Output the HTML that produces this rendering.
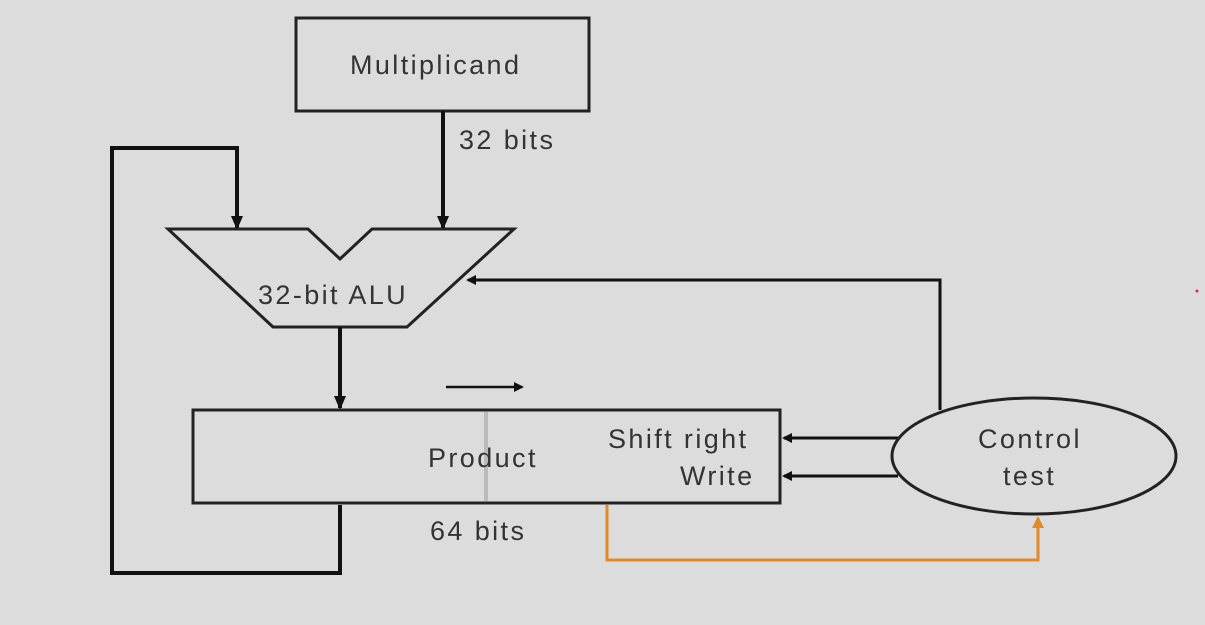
<!DOCTYPE html>
<html><head><style>
body{margin:0;background:#dcdcdc;}
svg{display:block}
text{font-family:"Liberation Sans",sans-serif;fill:#333;font-size:27px;letter-spacing:2.4px}
</style></head><body>
<svg width="1205" height="625" viewBox="0 0 1205 625">
<defs>
<marker id="a" markerWidth="10" markerHeight="10" refX="8" refY="5" orient="auto" markerUnits="userSpaceOnUse"><path d="M0,0 L10,5 L0,10 z" fill="#111"/></marker>
<marker id="b" markerWidth="14" markerHeight="14" refX="12" refY="7" orient="auto" markerUnits="userSpaceOnUse"><path d="M0,1 L14,7 L0,13 z" fill="#111"/></marker>
<marker id="o" markerWidth="12" markerHeight="12" refX="10" refY="6" orient="auto" markerUnits="userSpaceOnUse"><path d="M0,0 L12,6 L0,12 z" fill="#e08a2a"/></marker>
</defs>
<rect x="296" y="18" width="293" height="93" fill="none" stroke="#222" stroke-width="3"/>
<text x="350" y="74">Multiplicand</text>
<text x="459" y="149">32 bits</text>
<line x1="443" y1="111" x2="443" y2="228" stroke="#111" stroke-width="4" marker-end="url(#b)"/>
<polyline points="340,505 340,573 112,573 112,148 237,148 237,228" fill="none" stroke="#111" stroke-width="4" marker-end="url(#b)"/>
<polygon points="168,229 308,229 340,259 372,229 514,229 407,327 273,327" fill="none" stroke="#222" stroke-width="3"/>
<text x="258" y="304">32-bit ALU</text>
<line x1="340" y1="327" x2="340" y2="408" stroke="#111" stroke-width="4" marker-end="url(#b)"/>
<polyline points="940,410 940,280 468,280" fill="none" stroke="#111" stroke-width="3" marker-end="url(#a)"/>
<rect x="193" y="410" width="587" height="93" fill="none" stroke="#222" stroke-width="3"/>
<line x1="486" y1="412" x2="486" y2="501" stroke="#bbb" stroke-width="4"/>
<line x1="446" y1="387" x2="522" y2="387" stroke="#111" stroke-width="2.5" marker-end="url(#a)"/>
<text x="428" y="467">Product</text>
<text x="608" y="448">Shift right</text>
<text x="680" y="485">Write</text>
<text x="430" y="540">64 bits</text>
<line x1="898" y1="438" x2="784" y2="438" stroke="#111" stroke-width="3" marker-end="url(#a)"/>
<line x1="898" y1="476" x2="784" y2="476" stroke="#111" stroke-width="3" marker-end="url(#a)"/>
<ellipse cx="1034" cy="456" rx="142" ry="58" fill="none" stroke="#222" stroke-width="3"/>
<text x="978" y="448">Control</text>
<text x="1003" y="485">test</text>
<polyline points="607,505 607,560 1038,560 1038,518" fill="none" stroke="#e08a2a" stroke-width="3" marker-end="url(#o)"/>
<circle cx="1197" cy="291" r="1.5" fill="#d33"/>
</svg>
</body></html>
